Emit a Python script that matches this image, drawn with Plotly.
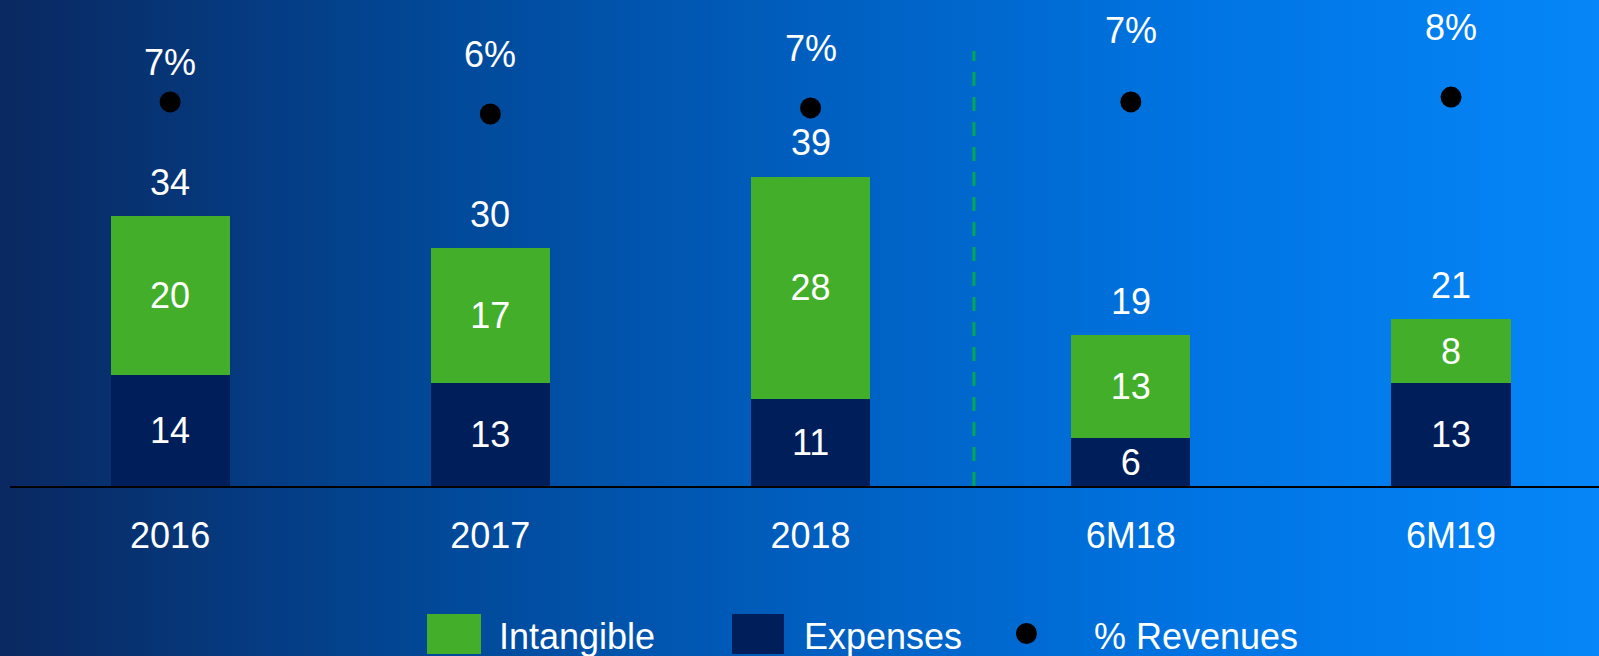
import plotly.graph_objects as go

# data
periods = ["2016", "2017", "2018", "6M18", "6M19"]
expenses = [14, 13, 11, 6, 13]
intangible = [20, 17, 28, 13, 8]
pct_revenues = [7.2, 6.2, 6.7, 7.2, 7.6]

totals = [e + i for e, i in zip(expenses, intangible)]
pct_labels = [f"{v:.0f}%" for v in pct_revenues]

GREEN = "#42ae2a"
NAVY = "#001f5a"
FONT = "Liberation Sans, Arial, sans-serif"
FS = 36

# figure geometry (pixels)
FW, FH = 1599, 656
L, T, W, H = 10, 20, 1589, 466


def px_x(p):
    return (p - L) / W


def px_y(p):
    return (T + H - p) / H


fig = go.Figure()

fig.add_trace(go.Bar(
    x=periods, y=expenses, name="Expenses",
    marker=dict(color=NAVY, line=dict(width=0)),
    text=[str(v) for v in expenses], textposition="inside",
    insidetextanchor="middle", constraintext="none",
    textfont=dict(color="white", size=FS, family=FONT),
))
fig.add_trace(go.Bar(
    x=periods, y=intangible, name="Intangible",
    marker=dict(color=GREEN, line=dict(width=0)),
    text=[str(v) for v in intangible], textposition="inside",
    insidetextanchor="middle", constraintext="none",
    textfont=dict(color="white", size=FS, family=FONT),
))
fig.add_trace(go.Scatter(
    x=periods, y=pct_revenues, name="% Revenues", yaxis="y2",
    mode="markers", marker=dict(color="black", size=21),
))

annotations = []
# totals above bars (x given as category index)
for i, t in enumerate(totals):
    annotations.append(dict(
        x=i, y=t, xref="x", yref="y", text=str(t), showarrow=False,
        yanchor="middle", yshift=34,
        font=dict(color="white", size=FS, family=FONT),
    ))
# % labels above dots
pct_shift = [39, 60, 59, 71, 70]
for i, (v, lab, s) in enumerate(zip(pct_revenues, pct_labels, pct_shift)):
    annotations.append(dict(
        x=i, y=v, xref="x", yref="y2", text=lab, showarrow=False,
        yanchor="middle", yshift=s,
        font=dict(color="white", size=FS, family=FONT),
    ))

shapes = []
# background gradient, dark navy -> bright blue
stops = [(0.0, (10, 40, 96)), (0.25, (2, 70, 148)), (0.5, (0, 94, 190)),
         (0.75, (0, 116, 226)), (1.0, (6, 134, 248))]


def grad(t):
    for (t0, c0), (t1, c1) in zip(stops[:-1], stops[1:]):
        if t <= t1:
            f = (t - t0) / (t1 - t0)
            return "rgb(%d,%d,%d)" % tuple(round(a + (b - a) * f) for a, b in zip(c0, c1))
    return "rgb(%d,%d,%d)" % stops[-1][1]


n = 200
for i in range(n):
    x0 = FW * i / n
    x1 = FW * (i + 1) / n + 1
    shapes.append(dict(
        type="rect", xref="paper", yref="paper", layer="below",
        x0=px_x(x0), x1=px_x(x1), y0=px_y(FH), y1=px_y(0),
        fillcolor=grad((i + 0.5) / n), line=dict(width=0),
    ))

# dashed divider between full years and half years
shapes.append(dict(
    type="line", xref="x", yref="paper", x0=2.51, x1=2.51,
    y0=0, y1=px_y(51), line=dict(color="#00aa55", width=3, dash="14px,11px"),
))

# hand-drawn legend
legend_items = [("rect", GREEN, 427, 481, "Intangible", 497),
                ("rect", NAVY, 732, 784, "Expenses", 802),
                ("circle", "black", 1016, 1037, "% Revenues", 1092)]
for kind, col, a, b, label, tx in legend_items:
    if kind == "rect":
        y0, y1 = 614, 654
    else:
        y0, y1 = 623, 644
    shapes.append(dict(
        type=kind, xref="paper", yref="paper",
        x0=px_x(a), x1=px_x(b), y0=px_y(y1), y1=px_y(y0),
        fillcolor=col, line=dict(width=0),
    ))
    annotations.append(dict(
        x=px_x(tx), y=px_y(636), xref="paper", yref="paper", text=label,
        showarrow=False, xanchor="left", yanchor="middle",
        font=dict(color="white", size=FS, family=FONT),
    ))

fig.update_layout(
    width=FW, height=FH,
    margin=dict(l=L, r=FW - L - W, t=T, b=FH - T - H, pad=0),
    barmode="stack", bargap=0.628,
    paper_bgcolor="rgb(0,94,190)", plot_bgcolor="rgba(0,0,0,0)",
    showlegend=False,
    xaxis=dict(
        range=[-0.5, 4.462], showgrid=False, zeroline=False,
        showline=True, linecolor="black", linewidth=2,
        ticks="", ticklabelstandoff=17,
        tickfont=dict(color="white", size=FS, family=FONT),
    ),
    yaxis=dict(range=[0, H / 7.93], visible=False, showgrid=False, zeroline=False),
    yaxis2=dict(range=[6.2 - 372 / 12.1, 6.2 - 372 / 12.1 + H / 12.1],
                overlaying="y", visible=False, showgrid=False, zeroline=False),
    annotations=annotations,
    shapes=shapes,
    font=dict(family=FONT, color="white"),
)

fig.write_html("out.html", config=dict(displayModeBar=False),
               post_script="document.body.style.margin='0px';")
